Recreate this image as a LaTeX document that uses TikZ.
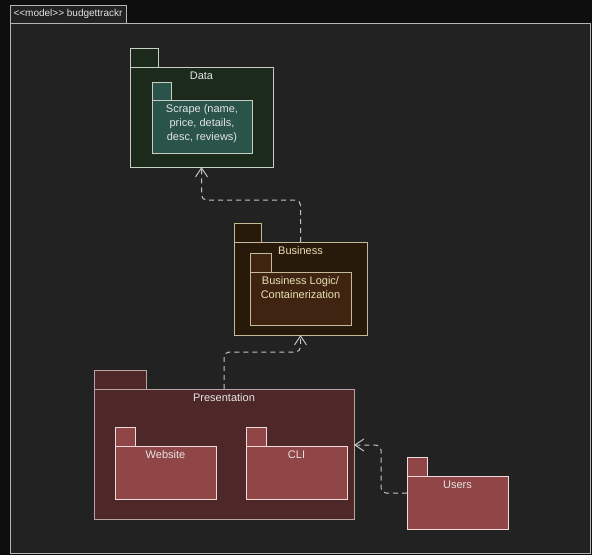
\documentclass[tikz,border=0pt]{standalone}
\usepackage{fontspec}
\setmainfont{Liberation Sans}
\usetikzlibrary{arrows.meta}

\definecolor{outbg}{HTML}{0E0E0E}
\definecolor{framebg}{HTML}{222222}
\definecolor{framel}{HTML}{B4B4B4}
\definecolor{datafill}{HTML}{1B2A1A}
\definecolor{datal}{HTML}{C8CDC8}
\definecolor{scrapefill}{HTML}{2A5349}
\definecolor{bizfill}{HTML}{281A0B}
\definecolor{bizl}{HTML}{C4B998}
\definecolor{biztxt}{HTML}{EADFB5}
\definecolor{logicfill}{HTML}{3F2511}
\definecolor{presfill}{HTML}{4E2828}
\definecolor{presl}{HTML}{B8A4A4}
\definecolor{webfill}{HTML}{904646}
\definecolor{webl}{HTML}{EEDCDC}
\definecolor{txt}{HTML}{E4E4E4}
\definecolor{linec}{HTML}{C4C4C4}

\begin{document}
\begin{tikzpicture}[x=1pt,y=-1pt,
	font=\fontsize{11}{13.8}\selectfont,
	box/.style={draw, line width=1pt, inner sep=0pt, outer sep=0pt, anchor=north west},
	tab/.style={draw, line width=1pt, inner sep=0pt, outer sep=0pt, anchor=south west, minimum height=19pt},
	lbl/.style={anchor=north, inner sep=2pt, yshift=-2.5pt, align=center, text=txt},
	dep/.style={draw=linec, line width=1pt, dash pattern=on 5pt off 4pt, rounded corners=5pt,
		-{Straight Barb[length=9pt,width=12pt]}}]

	\useasboundingbox[fill=outbg] (0,0) rectangle (592,555);

	\node[box, draw=framel, fill=framebg, minimum width=580pt, minimum height=530pt] (f) at (10,23) {};
	\node[tab, draw=framel, fill=framebg, minimum width=116pt, minimum height=18pt, text=txt,
		font=\fontsize{10}{12}\selectfont] (ft) at (f.north west) {<{}<model>{}> budgettrackr};

	\node[box, draw=datal, fill=datafill, minimum width=143pt, minimum height=100pt,
		label={[lbl]north:Data}] (a) at (130,67) {};
	\node[tab, draw=datal, fill=datafill, minimum width=28pt] (a0) at (a.north west) {};
	\node[box, draw=datal, fill=scrapefill, minimum width=100pt, minimum height=53pt,
		label={[lbl]north:Scrape (name,\\price, details,\\desc, reviews)}] (s) at (152,100) {};
	\node[tab, draw=datal, fill=scrapefill, minimum width=19pt, minimum height=18pt] (s0) at (s.north west) {};

	\node[box, draw=bizl, fill=bizfill, minimum width=133pt, minimum height=93pt,
		label={[lbl, text=biztxt]north:Business}] (b) at (234,242) {};
	\node[tab, draw=bizl, fill=bizfill, minimum width=27pt] (b0) at (b.north west) {};
	\node[box, draw=bizl, fill=logicfill, minimum width=101pt, minimum height=53pt,
		label={[lbl, text=biztxt]north:Business Logic/\\Containerization}] (l) at (250,272) {};
	\node[tab, draw=bizl, fill=logicfill, minimum width=21pt] (l0) at (l.north west) {};

	\node[box, draw=presl, fill=presfill, minimum width=260pt, minimum height=130pt,
		label={[lbl]north:Presentation}] (p) at (94,389) {};
	\node[tab, draw=presl, fill=presfill, minimum width=52pt] (p0) at (p.north west) {};
	\node[box, draw=webl, fill=webfill, minimum width=101pt, minimum height=53pt,
		label={[lbl]north:Website}] (w) at (115,446) {};
	\node[tab, draw=webl, fill=webfill, minimum width=20pt] (w0) at (w.north west) {};
	\node[box, draw=webl, fill=webfill, minimum width=101pt, minimum height=53pt,
		label={[lbl]north:CLI}] (c) at (246,446) {};
	\node[tab, draw=webl, fill=webfill, minimum width=20pt] (c0) at (c.north west) {};

	\node[box, draw=webl, fill=webfill, minimum width=101pt, minimum height=53pt,
		label={[lbl]north:Users}] (u) at (407,476) {};
	\node[tab, draw=webl, fill=webfill, minimum width=20pt] (u0) at (u.north west) {};

	\draw[dep] (b.north) -- ++(0,-42) -| (a.south);
	\draw[dep] (p.north) -- ++(0,-37) -| (b.south);
	\draw[dep] ([yshift=9.5pt]u.west) -- ++(-26,0) |- ([yshift=9pt]p.east);

\end{tikzpicture}
\end{document}
